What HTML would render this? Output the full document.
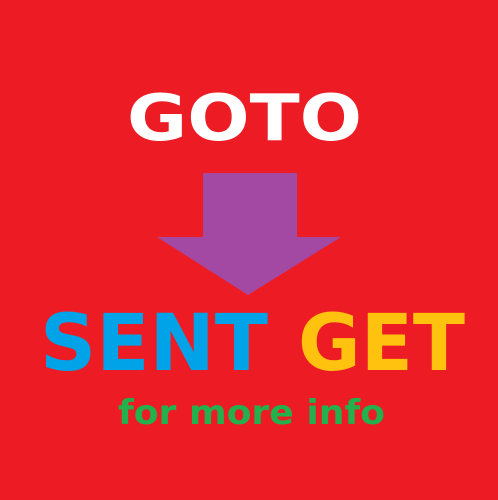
<!DOCTYPE html>
<html><head><meta charset="utf-8"><style>
html,body{margin:0;padding:0;background:#ED1C24;}
svg{display:block;}
text{font-family:"DejaVu Sans","Liberation Sans",sans-serif;font-weight:bold;}
</style></head><body>
<svg width="498" height="500" viewBox="0 0 498 500">
<rect x="0" y="0" width="498" height="500" fill="#ED1C24"/>
<text x="127" y="140" font-size="64" fill="#FFFFFF" textLength="235" lengthAdjust="spacingAndGlyphs">GOTO</text>
<g fill="#A349A4">
<rect x="203" y="173" width="94" height="65"/>
<polygon points="157,237 341,237 248,295"/>
</g>
<text x="40" y="370" font-size="78" fill="#00A2E8" textLength="228" lengthAdjust="spacingAndGlyphs">SENT</text>
<text x="298" y="370" font-size="78" fill="#FFC20E" textLength="167" lengthAdjust="spacingAndGlyphs">GET</text>
<text x="118" y="424" font-size="34" fill="#22B14C" textLength="267" lengthAdjust="spacingAndGlyphs">for more info</text>
</svg>
</body></html>
